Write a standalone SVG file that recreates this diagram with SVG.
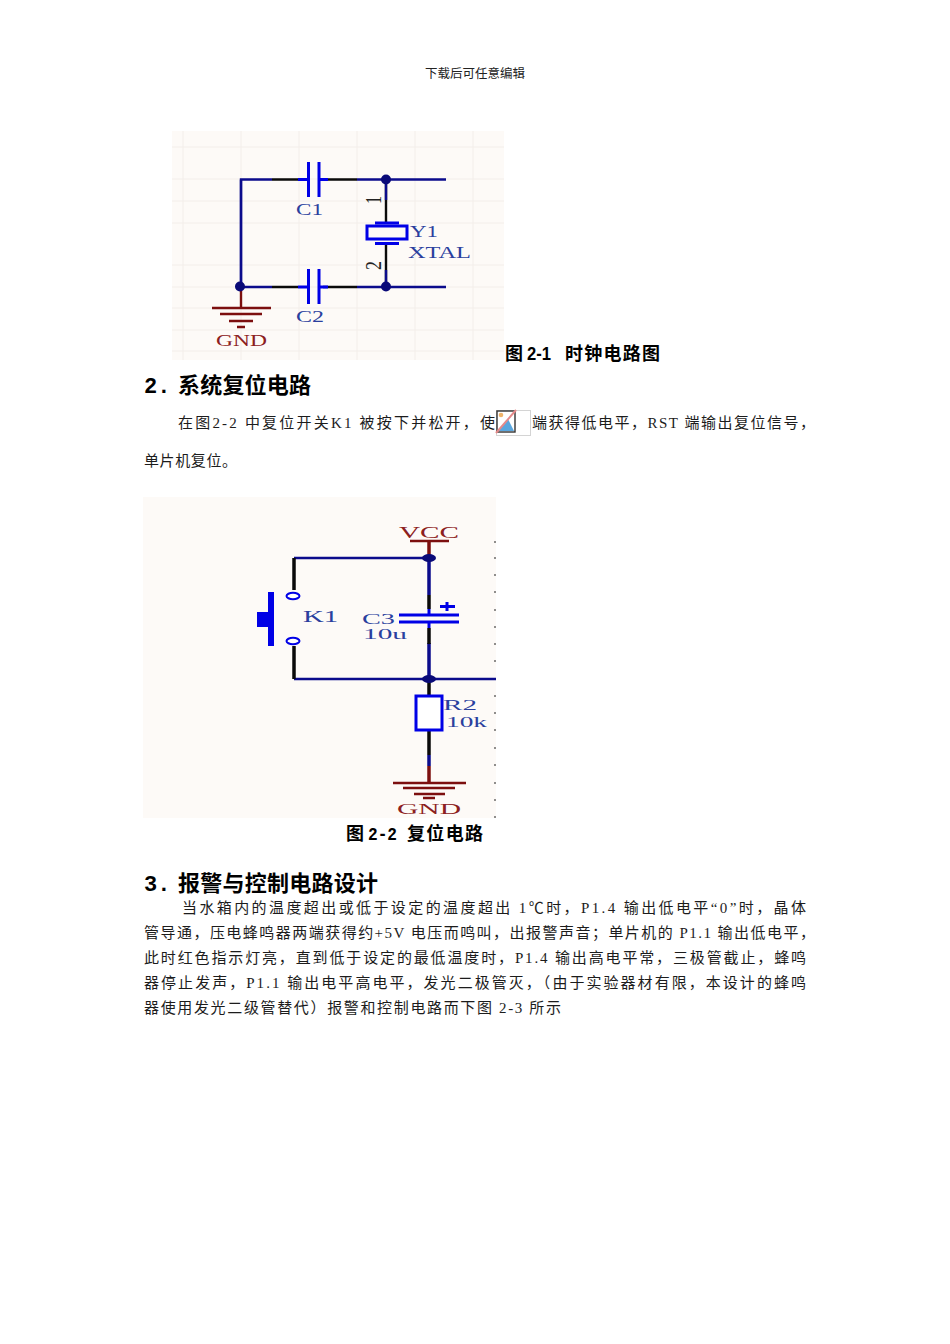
<svg xmlns="http://www.w3.org/2000/svg" width="950" height="1344" viewBox="0 0 950 1344">
<style>
.b{font-family:"Liberation Serif","Noto Sans CJK SC",serif;font-size:15px;fill:#1c1c1c}
.c{font-family:"Liberation Sans","Noto Sans CJK SC",sans-serif;font-size:18px;font-weight:700;fill:#000}
.h{font-family:"Liberation Mono","Noto Sans CJK SC",monospace;font-size:22px;font-weight:700;fill:#000}
.l{font-family:"Liberation Serif",serif;font-size:17px;fill:#2a3f9e}
.r{font-family:"Liberation Serif",serif;font-size:17px;fill:#8c2020}
.n{fill:none;stroke:#0b0b8c;stroke-width:2.4}
.k{fill:none;stroke:#0a0a0a;stroke-width:2.4}
.p{fill:none;stroke:#0000e6;stroke-width:3}
.g{fill:none;stroke:#7c0f0f;stroke-width:2.4}
.d{fill:#0a0a78}
.grid{stroke:#f3eeea;stroke-width:1}
.pin{font-family:"Liberation Serif",serif;font-size:24px;fill:#222}
</style>
<rect width="950" height="1344" fill="#fff"/>
<text x="475" y="78" text-anchor="middle" style="font-family:'Liberation Serif','Noto Sans CJK SC',serif;font-size:12.500px;fill:#222">下载后可任意编辑</text>

<g id="figure-2-1">
<rect x="172" y="131" width="332" height="229" fill="#fdfaf7"/>
<path class="grid" d="M183 131V360M241 131V360M299 131V360M357 131V360M415 131V360M473 131V360M172 147H504M172 179H504M172 201H504M172 223H504M172 265H504M172 287H504M172 308H504M172 330H504M172 351H504"/>
<g id="wires-1">
<path class="n" d="M272 179.500H241V287H272M323 179.500H328M357 179.500H446M323 287H328M357 287H446"/>
<path class="k" d="M272 179.500H298M328 179.500H357M272 287H298M328 287H357M386 180V223M386 243V287"/>
<path class="n" d="M386 180V200M386 270V287M241 179.500V287"/>
</g>
<g id="c1"><path class="p" d="M308.500 162V197M319 162V197M298 179.500H308M320 179.500H328"/><text class="l" x="296" y="215" textLength="27" lengthAdjust="spacingAndGlyphs">C1</text></g>
<g id="c2"><path class="p" d="M308.500 269V304M319 269V304M298 287H308M320 287H328"/><text class="l" x="296" y="322" textLength="28" lengthAdjust="spacingAndGlyphs">C2</text></g>
<g id="y1">
<rect x="367" y="226" width="40" height="13" fill="none" stroke="#0000e6" stroke-width="3"/>
<path class="p" d="M375 223H399M375 243.500H399"/>
<text x="410" y="237" class="l" textLength="28" lengthAdjust="spacingAndGlyphs">Y1</text>
<text x="408" y="258" class="l" textLength="63" lengthAdjust="spacingAndGlyphs">XTAL</text>
<text class="pin" transform="translate(381 204) rotate(-90)" textLength="8" lengthAdjust="spacingAndGlyphs">1</text>
<text class="pin" transform="translate(381 270) rotate(-90)" textLength="9" lengthAdjust="spacingAndGlyphs">2</text>
</g>
<g id="gnd-1">
<path class="g" d="M241 287V308M212 308H271M220 314H262M229 321H253M237 327H245"/>
<text class="r" x="216" y="346" textLength="51" lengthAdjust="spacingAndGlyphs">GND</text>
</g>
<g id="junctions-1"><circle class="d" cx="386" cy="179.500" r="5"/><circle class="d" cx="386" cy="286.500" r="5"/><circle class="d" cx="240" cy="286.500" r="5"/></g>
</g>
<g id="caption-1"><text class="c" x="505" y="360">图</text><text class="c" x="527" y="360" textLength="24" lengthAdjust="spacingAndGlyphs">2-1</text><text class="c" x="565" y="360" textLength="95" lengthAdjust="spacing">时钟电路图</text></g>
<g id="heading-2"><text class="h" x="144" y="393">2.</text><text class="h" x="178" y="393" textLength="133" lengthAdjust="spacing">系统复位电路</text></g>
<text class="b" x="178" y="428" textLength="317" lengthAdjust="spacing">在图2-2 中复位开关K1 被按下并松开，使</text>
<g id="broken-image">
<rect x="496.500" y="410.500" width="34" height="25" fill="#fff" stroke="#d4d4d4"/>
<rect x="497" y="411" width="18" height="21" fill="#fff" stroke="#333" stroke-width="1.400"/>
<path d="M498 431L508 419L514 431Z" fill="#5aa6de"/>
<circle cx="501" cy="415" r="2.300" fill="#f0b46a"/>
<path d="M496 433L516 410" stroke="#e58a8a" stroke-width="2"/>
</g>
<text class="b" x="532" y="428" textLength="283" lengthAdjust="spacing">端获得低电平，RST 端输出复位信号，</text>
<text class="b" x="144" y="466" textLength="93" lengthAdjust="spacing">单片机复位。</text>

<g id="figure-2-2">
<rect x="143" y="497" width="353" height="321" fill="#fdfaf7"/>
<path stroke="#222" stroke-width="1" d="M494 542H496M494 558H496M494 575H496M494 592H496M494 610H496M494 627H496M494 644H496M494 661H496M494 696H496M494 713H496M494 730H496M494 748H496M494 765H496M494 783H496M494 800H496M494 817H496"/>
<g id="wires-2">
<path class="n" d="M294 558H429M294 679H496"/>
<path stroke="#0b0b8c" stroke-width="3.500" fill="none" d="M429 558V595M429 643V679M429 755V766"/>
<path stroke="#0a0a0a" stroke-width="3.500" fill="none" d="M294 558V590M294 646V679M429 595V609M429 628V644M429 679V696M429 730V755"/>
</g>
<g id="k1">
<path stroke="#0000e6" stroke-width="6" d="M271 592V646"/>
<rect x="257" y="612" width="11" height="15" fill="#0000e6"/>
<ellipse cx="293" cy="596" rx="6.500" ry="3.200" fill="#fff" stroke="#0000e6" stroke-width="2"/>
<ellipse cx="293" cy="641" rx="6.500" ry="3.200" fill="#fff" stroke="#0000e6" stroke-width="2"/>
<text class="l" x="303" y="622" textLength="35" lengthAdjust="spacingAndGlyphs" style="font-size:16px">K1</text>
</g>
<g id="c3">
<path class="p" d="M399 615H459M399 622H459M429 609V615M429 622V628M440 606.500H455M447 602V611"/>
<text class="l" x="362" y="624" textLength="33" lengthAdjust="spacingAndGlyphs" style="font-size:14px">C3</text>
<text class="l" x="363" y="639" textLength="44" lengthAdjust="spacingAndGlyphs" style="font-size:14px">10u</text>
</g>
<g id="r2">
<rect x="416" y="696" width="26" height="34" fill="#fff" stroke="#0000e6" stroke-width="3"/>
<text class="l" x="443" y="710" textLength="34" lengthAdjust="spacingAndGlyphs" style="font-size:14px">R2</text>
<text class="l" x="446" y="727" textLength="41" lengthAdjust="spacingAndGlyphs" style="font-size:14px">10k</text>
</g>
<g id="vcc">
<path class="g" d="M410 541H449"/><path stroke="#7c0f0f" stroke-width="3.500" d="M429 541V558"/>
<text class="r" x="399" y="538" textLength="60" lengthAdjust="spacingAndGlyphs">VCC</text>
</g>
<g id="gnd-2">
<path stroke="#7c0f0f" stroke-width="3.500" d="M429 766V783"/>
<path class="g" d="M393 783H466M403 788H455M414 794H445M423 798H435"/>
<text class="r" x="397" y="814" textLength="64" lengthAdjust="spacingAndGlyphs" style="font-size:15px">GND</text>
</g>
<g id="junctions-2"><ellipse class="d" cx="429" cy="558" rx="7" ry="4"/><ellipse class="d" cx="429" cy="679" rx="7" ry="4"/></g>
</g>
<g id="caption-2"><text class="c" x="346" y="840">图</text><text class="c" x="368" y="840" textLength="29" lengthAdjust="spacingAndGlyphs" style="font-family:'Liberation Mono',monospace">2-2</text><text class="c" x="407" y="840" textLength="76" lengthAdjust="spacing">复位电路</text></g>
<g id="heading-3"><text class="h" x="144" y="891">3.</text><text class="h" x="178" y="891" textLength="200" lengthAdjust="spacing">报警与控制电路设计</text></g>
<text class="b" x="182" y="913" textLength="624" lengthAdjust="spacing">当水箱内的温度超出或低于设定的温度超出 1℃时，P1.4 输出低电平“0”时，晶体</text>
<text class="b" x="144" y="938" textLength="671" lengthAdjust="spacing">管导通，压电蜂鸣器两端获得约+5V 电压而鸣叫，出报警声音；单片机的 P1.1 输出低电平，</text>
<text class="b" x="144" y="963" textLength="662" lengthAdjust="spacing">此时红色指示灯亮，直到低于设定的最低温度时，P1.4 输出高电平常，三极管截止，蜂鸣</text>
<text class="b" x="144" y="988" textLength="662" lengthAdjust="spacing">器停止发声，P1.1 输出电平高电平，发光二极管灭，（由于实验器材有限，本设计的蜂鸣</text>
<text class="b" x="144" y="1013" textLength="417" lengthAdjust="spacing">器使用发光二级管替代）报警和控制电路而下图 2-3 所示</text>
</svg>
